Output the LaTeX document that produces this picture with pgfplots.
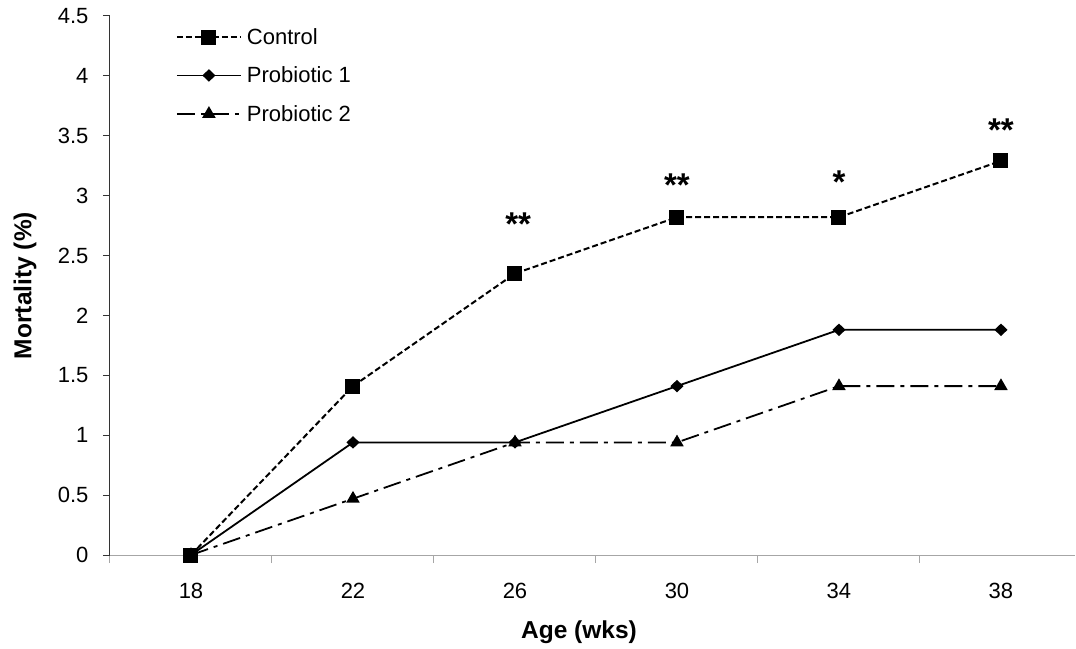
\documentclass[border=0pt]{standalone}
\usepackage{fontspec}
\setmainfont{Liberation Sans}
\usepackage{pgfplots}
\pgfplotsset{compat=1.18}

% mortality (%) by age, one table per series
\pgfplotstableread{
x  y
0  0
1  1.41
2  2.35
3  2.82
4  2.82
5  3.29
}\control
\pgfplotstableread{
x  y
0  0
1  0.94
2  0.94
3  1.41
4  1.88
5  1.88
}\probA
\pgfplotstableread{
x  y
0  0
1  0.47
2  0.94
3  0.94
4  1.41
5  1.41
}\probB

\begin{document}
\begin{tikzpicture}
\begin{axis}[
    name=ax,
    scale only axis,
    width=965pt, height=539pt,
    xmin=-0.5, xmax=5.457,
    ymin=0, ymax=4.5,
    axis x line=bottom, axis y line=left,
    x axis line style={-, draw=gray!70, line width=1pt},
    y axis line style={-, draw=black!80, line width=1pt},
    xtick={0,...,5},
    xticklabels={18,22,26,30,34,38},
    major x tick style={draw=none},
    minor xtick={-0.5,0.5,1.5,2.5,3.5,4.5},
    minor x tick style={draw=gray!70, line width=1pt},
    minor tick length=8pt,
    ytick={0,0.5,...,4.5},
    y tick style={draw=black!80, line width=1pt},
    major tick length=7pt,
    tick align=outside,
    xtick pos=bottom, ytick pos=left,
    /pgf/number format/assume math mode=true,
    tick label style={font=\fontsize{22}{26}\selectfont},
    xticklabel style={yshift=-18pt},
    yticklabel style={xshift=-11pt},
    xlabel={Age (wks)},
    ylabel={Mortality (\%)},
    label style={font=\fontsize{24.5}{28}\selectfont\bfseries},
    xlabel style={at={(axis description cs:0.486,-0.143)}, anchor=center},
    ylabel style={at={(axis description cs:-0.088,0.5)}, anchor=center},
    legend style={draw=none, fill=none, at={(axis description cs:0.065,0.985)},
        anchor=north west, font=\fontsize{22}{26}\selectfont, row sep=17pt,
        nodes={inner xsep=5pt}},
    legend cell align=left,
    legend image code/.code={
        \draw[mark repeat=2,mark phase=2] plot coordinates {(0pt,0pt)(32pt,0pt)(64pt,0pt)};
    },
]
\addplot[black, line width=2pt, dash pattern=on 6pt off 3pt,
    mark=square*, mark size=6.5pt, mark options={solid}] table {\control};
\addlegendentry{Control}
\addplot[black, line width=1.8pt,
    mark=diamond*, mark size=5pt, mark options={solid, xscale=1.4}] table {\probA};
\addlegendentry{Probiotic 1}
\addplot[black, line width=1.8pt, dash pattern=on 18pt off 6pt on 4pt off 6pt,
    mark=triangle*, mark size=6pt, mark options={solid}] table {\probB};
\addlegendentry{Probiotic 2}

\node[font=\fontsize{33}{38}\selectfont\bfseries] at (axis cs:2.02,2.76) {**};
\node[font=\fontsize{33}{38}\selectfont\bfseries] at (axis cs:3,3.09) {**};
\node[font=\fontsize{33}{38}\selectfont\bfseries] at (axis cs:4,3.11) {*};
\node[font=\fontsize{33}{38}\selectfont\bfseries] at (axis cs:5,3.55) {**};
\end{axis}
\pgfresetboundingbox
\path (ax.south west) ++(-110pt,-93pt) rectangle ++(1076pt,648pt);
\end{tikzpicture}
\end{document}
